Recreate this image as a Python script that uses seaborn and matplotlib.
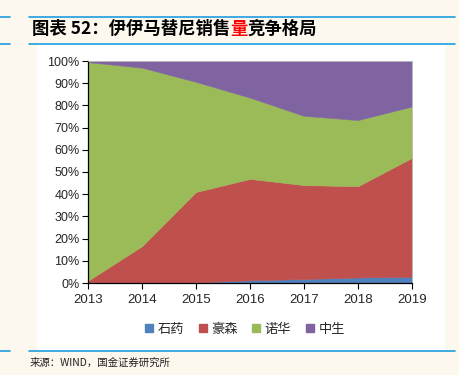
import numpy as np
import matplotlib
matplotlib.use("Agg")
import matplotlib.pyplot as plt
from matplotlib.lines import Line2D
import seaborn as sns

years = [2013, 2014, 2015, 2016, 2017, 2018, 2019]
series_names = ['石药', '豪森', '诺华', '中生']
shiyao = [0.0, 0.0, 0.3, 1.2, 1.8, 2.5, 2.8]
haosen = [1.0, 16.6, 40.7, 45.7, 42.3, 41.1, 53.6]
nuohua = [98.5, 80.4, 49.6, 36.6, 31.2, 29.8, 23.1]
zhongsheng = [0.5, 3.0, 9.4, 16.5, 24.7, 26.6, 20.5]
y_ticks = list(range(0, 101, 10))

sns.set_theme(style="white")
plt.rcParams['font.family'] = ['Noto Sans CJK SC', 'DejaVu Sans']
colors = ['#4F81BD', '#C0504D', '#9BBB59', '#8064A2']

fig = plt.figure(figsize=(4.6, 3.75), dpi=100)
fig.patch.set_facecolor('#FDF8EE')

# white panel behind chart
panel = plt.Rectangle((37 / 460, 1 - 350 / 375), 407 / 460, 307 / 375,
                      transform=fig.transFigure, color='white', zorder=-10)
fig.patches.append(panel)
# blue rules
blue = '#1E9BE0'
for yy in [17, 43.5, 351]:
    yf = 1 - yy / 375
    fig.add_artist(Line2D([29 / 460, 455 / 460], [yf, yf], transform=fig.transFigure, color=blue, lw=1.2))
    fig.add_artist(Line2D([0, 10 / 460], [yf, yf], transform=fig.transFigure, color=blue, lw=1.2))

ax = fig.add_axes([88 / 460, 1 - 283 / 375, 324 / 460, 222 / 375])
ax.set_zorder(5)
ax.set_facecolor('white')
polys = ax.stackplot(years, shiyao, haosen, nuohua, zhongsheng, colors=colors, labels=series_names)
for p, c in zip(polys, colors):
    p.set_edgecolor(c)
    p.set_linewidth(0.4)
ax.set_xlim(2013, 2019)
ax.set_ylim(0, 100)
ax.set_yticks(y_ticks)
ax.set_yticklabels([f'{t}%' for t in y_ticks], fontsize=9, family=['Liberation Sans', 'DejaVu Sans'])
ax.set_xticks(years)
ax.set_xticklabels([str(y) for y in years], fontsize=9.5, family=['Liberation Sans', 'DejaVu Sans'])
ax.tick_params(axis='both', direction='out', length=4, width=0.8, color='black', pad=2)
ax.tick_params(axis='x', pad=4)
ax.tick_params(left=True, bottom=True)
for s in ['left', 'bottom']:
    ax.spines[s].set_color('black')
    ax.spines[s].set_linewidth(0.9)
for s in ['top', 'right']:
    ax.spines[s].set_color('#BFBFBF')
    ax.spines[s].set_linewidth(0.6)

handles = [plt.Rectangle((0, 0), 1, 1, color=c) for c in colors]
fig.legend(handles, series_names, loc='center', bbox_to_anchor=(245 / 460, 1 - 329 / 375),
           ncol=4, frameon=False, fontsize=9.5, handlelength=0.6, handleheight=0.6,
           handletextpad=0.35, columnspacing=1.1)

# title with the red character
fig.canvas.draw()
renderer = fig.canvas.get_renderer()
parts = [('图表 52：伊伊马替尼销售', 'black'), ('量', 'red'), ('竞争格局', 'black')]
x = 32 / 460
for txt, col in parts:
    t = fig.text(x, 1 - 29 / 375, txt, fontsize=12.5, fontweight='bold', color=col,
                 va='center', ha='left', family=['Noto Sans CJK SC', 'DejaVu Sans'])
    bb = t.get_window_extent(renderer)
    x += bb.width / fig.bbox.width

fig.text(30 / 460, 1 - 363 / 375, '来源：WIND，国金证券研究所', fontsize=7.5,
         va='center', ha='left', color='#222222')

fig.savefig('out.png', dpi=100, facecolor=fig.get_facecolor())
